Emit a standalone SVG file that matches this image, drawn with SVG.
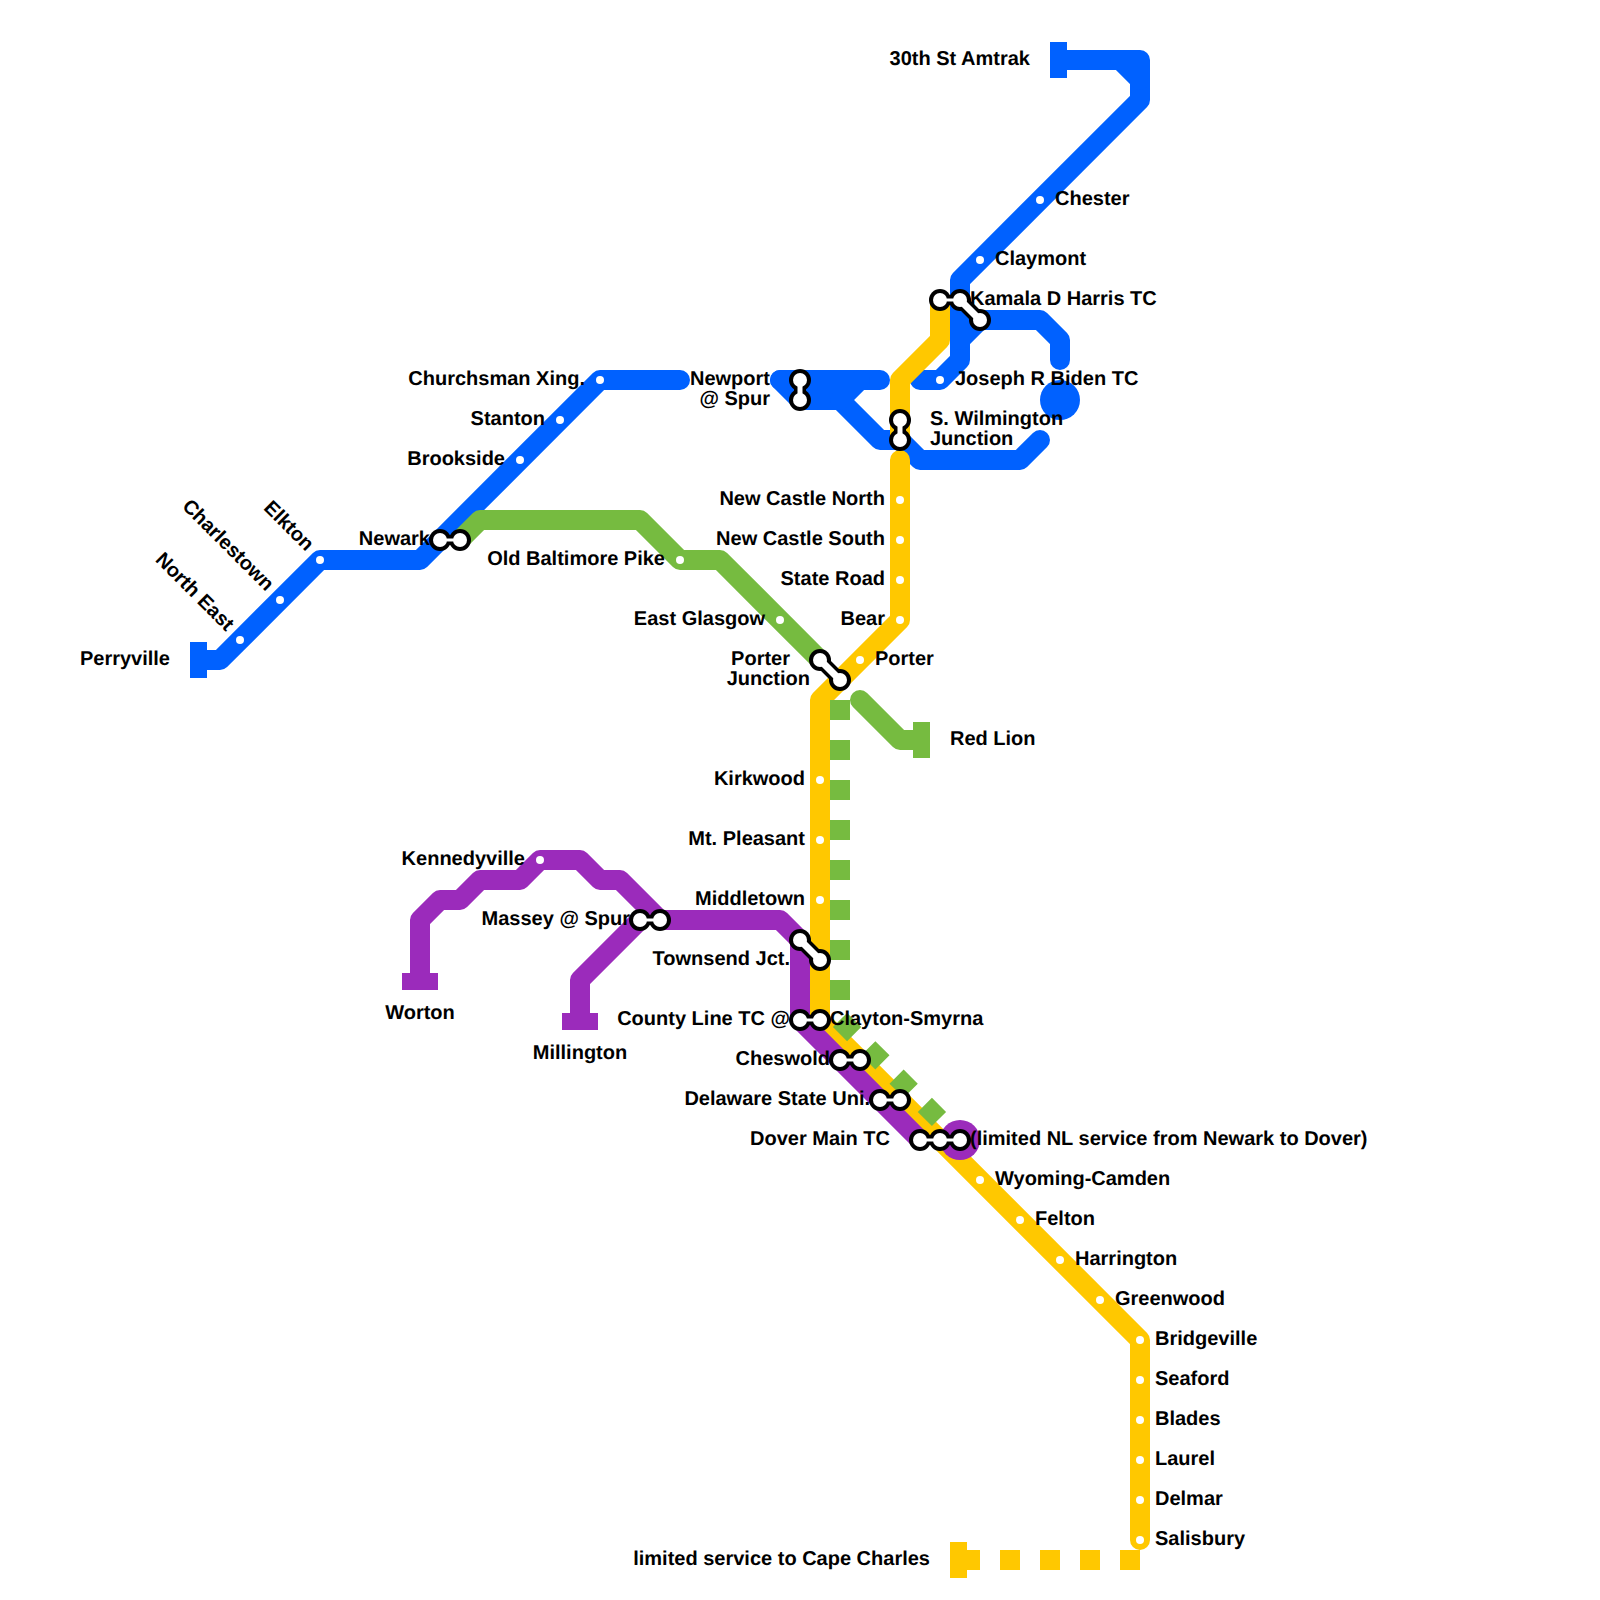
<svg xmlns="http://www.w3.org/2000/svg" width="1600" height="1600" viewBox="0 0 1600 1600">
<defs>
<style>
.l{fill:none;stroke-width:20;stroke-linecap:round;stroke-linejoin:round}
.b{stroke:#0061ff}.g{stroke:#76bb40}.p{stroke:#9b2bbb}.y{stroke:#ffc800}
.d{stroke-dasharray:20 20;stroke-linecap:butt}
.fb{fill:#0061ff}.fg{fill:#76bb40}.fp{fill:#9b2bbb}.fy{fill:#ffc800}
.dot{fill:#fff}
.ro{fill:#000}.ri{fill:#fff}
.nk{stroke:#000;fill:none}.nw{stroke:#fff;fill:none}
text{font-family:"Liberation Sans",Arial,sans-serif;font-weight:700;font-size:20px;fill:#000;text-rendering:geometricPrecision}
.e{text-anchor:end}.m{text-anchor:middle}
</style>
<g id="ring"><circle r="11" class="ro"/></g>
<g id="hole"><circle r="7" class="ri"/></g>
<circle id="st" r="4" class="dot"/>
</defs>
<rect width="1600" height="1600" fill="#fff"/>
<g id="connectors">
<path class="l b" d="M200 660H220L320 560H420L600 380H680"/>
<path class="l b" d="M1060 60H1120L1140 80V100L960 280V360L940 380H920"/>
<path class="l b" d="M1120 60H1140V80"/>
<path class="l b" d="M980 320H1040L1060 340V360"/>
<path class="l b" d="M980 320L960 340"/>
<path class="l b" d="M780 380H880"/>
<path class="l b" d="M780 380L800 400H840L880 440H900L920 460H1020L1040 440"/>
<path class="l b" d="M840 400L860 380"/>
<path class="l g" d="M460 540L480 520H640L680 560H720L820 660"/>
<path class="l g" d="M860 700L900 740H920"/>
<path class="l y" d="M940 300V340L900 380V440"/>
<path class="l y" d="M900 460V620L820 700V1020L1140 1340V1540"/>
<path class="l y d" d="M1140 1560H960"/>
<path class="l p" d="M420 980V920L440 900H460L480 880H520L540 860H580L600 880H620L660 920H780L800 940V1020L920 1140"/>
<path class="l p" d="M640 920L580 980V1020"/>
<path class="l g d" d="M840 700V1020L960 1140"/>
<circle class="fp" cx="960" cy="1140" r="20"/>
<circle class="fb" cx="1060" cy="400" r="20"/>
<rect class="fb" x="190" y="642" width="17" height="36"/>
<rect class="fb" x="1050" y="42" width="17" height="36"/>
<rect class="fg" x="913" y="722" width="17" height="36"/>
<rect class="fp" x="402" y="973" width="36" height="17"/>
<rect class="fp" x="562" y="1013" width="36" height="17"/>
<rect class="fy" x="950" y="1542" width="17" height="36"/>
</g>
<g id="n-perryville"><text class="e" x="170" y="665">Perryville</text></g>
<g id="n-northeast"><use href="#st" x="240" y="640"/><text class="e" transform="translate(226 632) rotate(45)">North East</text></g>
<g id="n-charlestown"><use href="#st" x="280" y="600"/><text class="e" transform="translate(266 592) rotate(45)">Charlestown</text></g>
<g id="n-elkton"><use href="#st" x="320" y="560"/><text class="e" transform="translate(306 552) rotate(45)">Elkton</text></g>
<g id="n-newark"><path class="nk" stroke-width="10" d="M440 540H460"/><use href="#ring" x="440" y="540"/><use href="#ring" x="460" y="540"/><path class="nw" stroke-width="3" d="M440 540H460"/><use href="#hole" x="440" y="540"/><use href="#hole" x="460" y="540"/><text class="e" x="430" y="545">Newark</text></g>
<g id="n-brookside"><use href="#st" x="520" y="460"/><text class="e" x="505" y="465">Brookside</text></g>
<g id="n-stanton"><use href="#st" x="560" y="420"/><text class="e" x="545" y="425">Stanton</text></g>
<g id="n-churchsman"><use href="#st" x="600" y="380"/><text class="e" x="585" y="385">Churchsman Xing.</text></g>
<g id="n-newport"><path class="nk" stroke-width="12" d="M800 380V400"/><use href="#ring" x="800" y="380"/><use href="#ring" x="800" y="400"/><path class="nw" stroke-width="5" d="M800 380V400"/><use href="#hole" x="800" y="380"/><use href="#hole" x="800" y="400"/><text class="e" x="770" y="385">Newport</text><text class="e" x="770" y="405">@ Spur</text></g>
<g id="n-swilm"><path class="nk" stroke-width="12" d="M900 420V440"/><use href="#ring" x="900" y="420"/><use href="#ring" x="900" y="440"/><path class="nw" stroke-width="5" d="M900 420V440"/><use href="#hole" x="900" y="420"/><use href="#hole" x="900" y="440"/><text x="930" y="425">S. Wilmington</text><text x="930" y="445">Junction</text></g>
<g id="n-kamala"><path class="nk" stroke-width="10" d="M940 300H960"/><path class="nk" stroke-width="14" d="M960 300L980 320"/><use href="#ring" x="940" y="300"/><use href="#ring" x="960" y="300"/><use href="#ring" x="980" y="320"/><path class="nw" stroke-width="3" d="M940 300H960"/><path class="nw" stroke-width="7" d="M960 300L980 320"/><use href="#hole" x="940" y="300"/><use href="#hole" x="960" y="300"/><use href="#hole" x="980" y="320"/><text x="970" y="305">Kamala D Harris TC</text></g>
<g id="n-30th"><text class="e" x="1030" y="65">30th St Amtrak</text></g>
<g id="n-chester"><use href="#st" x="1040" y="200"/><text x="1055" y="205">Chester</text></g>
<g id="n-claymont"><use href="#st" x="980" y="260"/><text x="995" y="265">Claymont</text></g>
<g id="n-biden"><use href="#st" x="940" y="380"/><text x="955" y="385">Joseph R Biden TC</text></g>
<g id="n-ncn"><use href="#st" x="900" y="500"/><text class="e" x="885" y="505">New Castle North</text></g>
<g id="n-ncs"><use href="#st" x="900" y="540"/><text class="e" x="885" y="545">New Castle South</text></g>
<g id="n-state"><use href="#st" x="900" y="580"/><text class="e" x="885" y="585">State Road</text></g>
<g id="n-bear"><use href="#st" x="900" y="620"/><text class="e" x="885" y="625">Bear</text></g>
<g id="n-porter"><use href="#st" x="860" y="660"/><text x="875" y="665">Porter</text></g>
<g id="n-oldbalt"><use href="#st" x="680" y="560"/><text class="e" x="665" y="565">Old Baltimore Pike</text></g>
<g id="n-glasgow"><use href="#st" x="780" y="620"/><text class="e" x="765" y="625">East Glasgow</text></g>
<g id="n-porterj"><path class="nk" stroke-width="14" d="M820 660L840 680"/><use href="#ring" x="820" y="660"/><use href="#ring" x="840" y="680"/><path class="nw" stroke-width="7" d="M820 660L840 680"/><use href="#hole" x="820" y="660"/><use href="#hole" x="840" y="680"/><text class="e" x="790" y="665">Porter</text><text class="e" x="810" y="685">Junction</text></g>
<g id="n-redlion"><text x="950" y="745">Red Lion</text></g>
<g id="n-kirkwood"><use href="#st" x="820" y="780"/><text class="e" x="805" y="785">Kirkwood</text></g>
<g id="n-mtp"><use href="#st" x="820" y="840"/><text class="e" x="805" y="845">Mt. Pleasant</text></g>
<g id="n-middletown"><use href="#st" x="820" y="900"/><text class="e" x="805" y="905">Middletown</text></g>
<g id="n-kennedyville"><use href="#st" x="540" y="860"/><text class="e" x="525" y="865">Kennedyville</text></g>
<g id="n-massey"><path class="nk" stroke-width="10" d="M640 920H660"/><use href="#ring" x="640" y="920"/><use href="#ring" x="660" y="920"/><path class="nw" stroke-width="3" d="M640 920H660"/><use href="#hole" x="640" y="920"/><use href="#hole" x="660" y="920"/><text class="e" x="630" y="925">Massey @ Spur</text></g>
<g id="n-worton"><text class="m" x="420" y="1019">Worton</text></g>
<g id="n-millington"><text class="m" x="580" y="1059">Millington</text></g>
<g id="n-townsend"><path class="nk" stroke-width="14" d="M800 940L820 960"/><use href="#ring" x="800" y="940"/><use href="#ring" x="820" y="960"/><path class="nw" stroke-width="7" d="M800 940L820 960"/><use href="#hole" x="800" y="940"/><use href="#hole" x="820" y="960"/><text class="e" x="790" y="965">Townsend Jct.</text></g>
<g id="n-county"><path class="nk" stroke-width="10" d="M800 1020H820"/><use href="#ring" x="800" y="1020"/><use href="#ring" x="820" y="1020"/><path class="nw" stroke-width="3" d="M800 1020H820"/><use href="#hole" x="800" y="1020"/><use href="#hole" x="820" y="1020"/><text class="e" x="790" y="1025">County Line TC @</text><text x="830" y="1025">Clayton-Smyrna</text></g>
<g id="n-cheswold"><path class="nk" stroke-width="10" d="M840 1060H860"/><use href="#ring" x="840" y="1060"/><use href="#ring" x="860" y="1060"/><path class="nw" stroke-width="3" d="M840 1060H860"/><use href="#hole" x="840" y="1060"/><use href="#hole" x="860" y="1060"/><text class="e" x="830" y="1065">Cheswold</text></g>
<g id="n-delaware"><path class="nk" stroke-width="10" d="M880 1100H900"/><use href="#ring" x="880" y="1100"/><use href="#ring" x="900" y="1100"/><path class="nw" stroke-width="3" d="M880 1100H900"/><use href="#hole" x="880" y="1100"/><use href="#hole" x="900" y="1100"/><text class="e" x="870" y="1105">Delaware State Uni.</text></g>
<g id="n-dover"><path class="nk" stroke-width="10" d="M920 1140H960"/><use href="#ring" x="920" y="1140"/><use href="#ring" x="940" y="1140"/><use href="#ring" x="960" y="1140"/><path class="nw" stroke-width="3" d="M920 1140H960"/><use href="#hole" x="920" y="1140"/><use href="#hole" x="940" y="1140"/><use href="#hole" x="960" y="1140"/><text class="e" x="890" y="1145">Dover Main TC</text><text x="970" y="1145">(limited NL service from Newark to Dover)</text></g>
<g id="n-wyoming"><use href="#st" x="980" y="1180"/><text x="995" y="1185">Wyoming-Camden</text></g>
<g id="n-felton"><use href="#st" x="1020" y="1220"/><text x="1035" y="1225">Felton</text></g>
<g id="n-harrington"><use href="#st" x="1060" y="1260"/><text x="1075" y="1265">Harrington</text></g>
<g id="n-greenwood"><use href="#st" x="1100" y="1300"/><text x="1115" y="1305">Greenwood</text></g>
<g id="n-bridgeville"><use href="#st" x="1140" y="1340"/><text x="1155" y="1345">Bridgeville</text></g>
<g id="n-seaford"><use href="#st" x="1140" y="1380"/><text x="1155" y="1385">Seaford</text></g>
<g id="n-blades"><use href="#st" x="1140" y="1420"/><text x="1155" y="1425">Blades</text></g>
<g id="n-laurel"><use href="#st" x="1140" y="1460"/><text x="1155" y="1465">Laurel</text></g>
<g id="n-delmar"><use href="#st" x="1140" y="1500"/><text x="1155" y="1505">Delmar</text></g>
<g id="n-salisbury"><use href="#st" x="1140" y="1540"/><text x="1155" y="1545">Salisbury</text></g>
<g id="n-cape"><text class="e" x="930" y="1565">limited service to Cape Charles</text></g>
</svg>
